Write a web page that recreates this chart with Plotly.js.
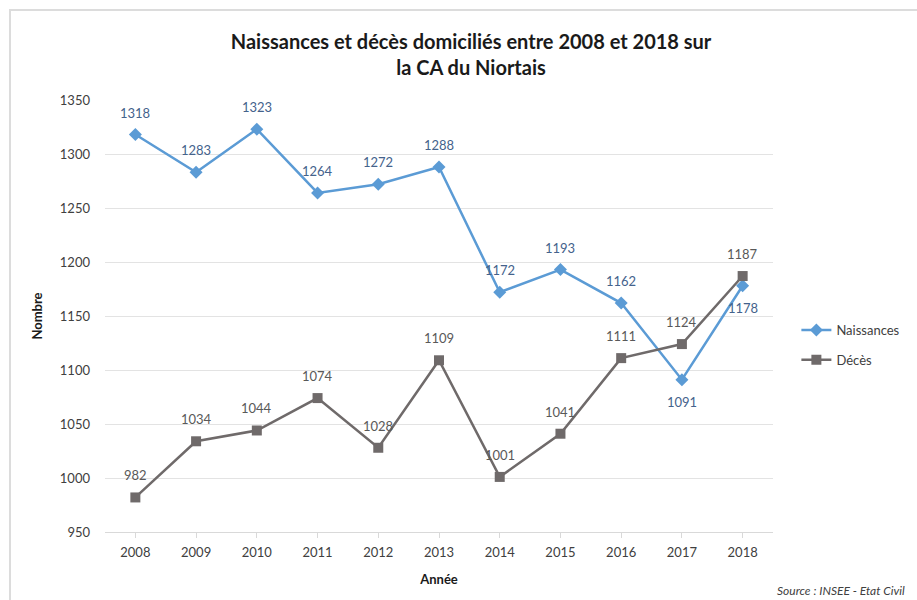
<!DOCTYPE html>
<html><head><meta charset="utf-8">
<script src="https://cdn.plot.ly/plotly-3.0.1.min.js"></script>
<style>
html,body{margin:0;padding:0;background:#fff;}
#frame{position:absolute;left:9px;top:9px;width:1000px;height:1000px;border-top:2px solid #dcdcdc;border-left:2px solid #dcdcdc;}
#chart{position:absolute;left:0;top:0;width:917px;height:600px;}
</style>
</head><body>
<div id="frame"></div>
<div id="chart"></div>
<script>
const years = [2008,2009,2010,2011,2012,2013,2014,2015,2016,2017,2018];
const naissances = [1318,1283,1323,1264,1272,1288,1172,1193,1162,1091,1178];
const deces = [982,1034,1044,1074,1028,1109,1001,1041,1111,1124,1187];
const naissLabelSide = ['above','above','above','above','above','above','above','above','above','below','below'];
const decesLabelSide = ['above','above','above','above','above','above','above','above','above','above','above'];
const yTicks = [950,1000,1050,1100,1150,1200,1250,1300,1350];

const font = 'Lato, "Open Sans", sans-serif';
const blue = '#5b9bd5';
const grey = '#6f6a6a';

const traces = [
  {x: years, y: naissances, name: 'Naissances', type: 'scatter', mode: 'lines+markers', legendgroup: 'n',
   line: {color: blue, width: 2.5}, marker: {symbol: 'diamond', size: 10, color: blue}},
  {x: years, y: deces, name: 'Décès', type: 'scatter', mode: 'lines+markers', legendgroup: 'd',
   line: {color: grey, width: 2.5}, marker: {symbol: 'square', size: 10, color: grey}}
];

const annotations = [];
years.forEach((yr, i) => {
  annotations.push({x: yr, y: naissances[i], xref: 'x', yref: 'y', text: String(naissances[i]),
    showarrow: false, yshift: naissLabelSide[i] === 'above' ? 22 : -22,
    font: {family: font, size: 13, color: '#44628c'}});
  annotations.push({x: yr, y: deces[i], xref: 'x', yref: 'y', text: String(deces[i]),
    showarrow: false, yshift: decesLabelSide[i] === 'above' ? 22 : -22,
    font: {family: font, size: 13, color: '#595959'}});
});
annotations.push({xref: 'paper', yref: 'paper', x: 1.2, y: -0.135, xanchor: 'right', yanchor: 'middle',
  text: '<i>Source : INSEE - Etat Civil</i>', showarrow: false,
  font: {family: font, size: 12, color: '#404040'}});

const layout = {
  width: 917, height: 600,
  paper_bgcolor: 'rgba(0,0,0,0)', plot_bgcolor: 'rgba(0,0,0,0)',
  margin: {l: 105, r: 144, t: 100, b: 68},
  title: {text: '<b>Naissances et décès domiciliés entre 2008 et 2018 sur<br>la CA du Niortais</b>',
    font: {family: font, size: 20, color: '#1a1a1a'}, xref: 'paper', x: 0.548, xanchor: 'center',
    yref: 'container', y: 0.919, yanchor: 'middle'},
  xaxis: {type: 'linear', range: [2007.5, 2018.5], tickvals: years, ticktext: years.map(String),
    title: {text: '<b>Année</b>', font: {family: font, size: 13, color: '#1a1a1a'}, standoff: 16},
    tickfont: {family: font, size: 13, color: '#404040'}, ticks: 'outside', ticklen: 5, tickcolor: '#d9d9d9',
    ticklabelstandoff: 3,
    showline: true, linecolor: '#d9d9d9', linewidth: 1, showgrid: false, zeroline: false},
  yaxis: {range: [950, 1350], tickvals: yTicks, ticktext: yTicks.map(String),
    title: {text: '<b>Nombre</b>', font: {family: font, size: 13, color: '#1a1a1a'}, standoff: 14},
    tickfont: {family: font, size: 13, color: '#404040'}, ticklabelstandoff: 14,
    showgrid: true, gridcolor: '#e3e3e3', gridwidth: 1, zeroline: false, showline: false},
  legend: {x: 1.035, y: 0.433, xanchor: 'left', yanchor: 'middle', font: {family: font, size: 13, color: '#404040'},
    tracegroupgap: 10},
  annotations: annotations,
  showlegend: true
};

Plotly.newPlot('chart', traces, layout, {displayModeBar: false, staticPlot: true});
</script>
</body></html>
